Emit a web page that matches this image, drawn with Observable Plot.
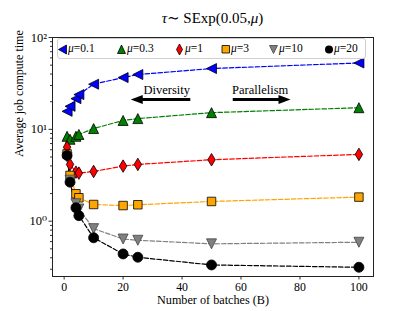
<!DOCTYPE html>
<html>
<head>
<meta charset="utf-8">
<script src="https://cdn.jsdelivr.net/npm/d3@7"></script>
<script src="https://cdn.jsdelivr.net/npm/@observablehq/plot@0.6"></script>
<style>
  html, body { margin: 0; padding: 0; background: #fff; }
  #wrap { position: relative; width: 415px; height: 311px; font-family: "Liberation Serif", "DejaVu Serif", serif; }
  #chart svg, #chart svg text { font-family: "Liberation Serif", "DejaVu Serif", serif !important; }
  #title { position: absolute; left: 0; width: 425px; top: 9px; text-align: center; font-size: 15px; color: #000; }
  #legend { position: absolute; left: 57px; top: 38px; width: 307px; height: 19px; border: 1px solid #d0d0d0; border-radius: 3px; background: rgba(255,255,255,0.85); font-size: 11.5px; }
  .li { position: absolute; top: 2px; height: 15px; line-height: 15px; white-space: nowrap; }
  .li svg { position: absolute; left: 0; top: 3px; }
  .li span { position: absolute; left: 10px; top: 0; }
</style>
</head>
<body>
<div id="wrap">
  <div id="title"><i>τ</i>∼ SExp(0.05,<i>μ</i>)</div>
  <div id="chart"></div>
  <div id="legend"></div>
</div>
<script>
// ---- data ----
const batches = [1, 2, 4, 5, 10, 20, 25, 50, 100];
const mus = ["0.1", "0.3", "1", "3", "10", "20"];
const mu01 = [15.7, 17.8, 21.6, 23.9, 31.0, 36.6, 39.5, 45.9, 52.8];
const mu03 = [8.4, 7.8, 8.4, 8.8, 10.2, 12.5, 13.1, 15.2, 17.2];
const mu1  = [6.4, 4.15, 3.42, 3.34, 3.48, 3.98, 4.15, 4.67, 5.34];
const mu3  = [5.4, 3.15, 1.99, 1.80, 1.52, 1.48, 1.51, 1.64, 1.83];
const mu10 = [5.0, 2.8, 1.55, 1.36, 0.83, 0.64, 0.62, 0.567, 0.59];
const mu20 = [5.2, 2.66, 1.40, 1.15, 0.66, 0.44, 0.405, 0.334, 0.315];
const colors = ["#0000ff", "#008000", "#ff0000", "#ffa500", "#808080", "#000000"];
const xTicks = [0, 20, 40, 60, 80, 100];
const yTicks = [1, 10, 100];
const yTickLabels = ["10⁰", "10¹", "10²"];
const xLabel = "Number of batches (B)";
const yLabel = "Average job compute time";
const annotations = [
  {text: "Diversity", x: 34.8, y: 26.5, x1: 42.8, x2: 22.6, ya: 21.2, dir: "left"},
  {text: "Parallelism", x: 66.5, y: 26.5, x1: 57.2, x2: 76.8, ya: 21.2, dir: "right"}
];
const serif = "Liberation Serif";

// ---- symbols ----
function rad(size) { return Math.sqrt(size / Math.PI); }
const triLeft = {draw(c, s) { const r = rad(s); c.moveTo(-r, 0); c.lineTo(r, -r); c.lineTo(r, r); c.closePath(); }};
const triUp = {draw(c, s) { const r = rad(s); c.moveTo(0, -r); c.lineTo(r, r); c.lineTo(-r, r); c.closePath(); }};
const thinDiamond = {draw(c, s) { const r = rad(s) * 1.25; c.moveTo(0, -r); c.lineTo(0.6 * r, 0); c.lineTo(0, r); c.lineTo(-0.6 * r, 0); c.closePath(); }};
const square = {draw(c, s) { const r = rad(s) * 0.85; c.rect(-r, -r, 2 * r, 2 * r); }};
const triDown = {draw(c, s) { const r = rad(s); c.moveTo(0, r); c.lineTo(r, -r); c.lineTo(-r, -r); c.closePath(); }};
const circle = {draw(c, s) { const r = rad(s); c.moveTo(r, 0); c.arc(0, 0, r, 0, 2 * Math.PI); }};
const symbols = [triLeft, triUp, thinDiamond, square, triDown, circle];
const headLeft = {draw(c, s) { c.moveTo(0, 0); c.lineTo(12, -4.5); c.lineTo(12, 4.5); c.closePath(); }};
const headRight = {draw(c, s) { c.moveTo(0, 0); c.lineTo(-12, -4.5); c.lineTo(-12, 4.5); c.closePath(); }};

const seriesVals = [mu01, mu03, mu1, mu3, mu10, mu20];
const rows = [];
seriesVals.forEach((vals, i) => vals.forEach((v, j) => rows.push({mu: mus[i], idx: i, B: batches[j], t: v})));

const marks = [];
// minor y ticks
const minor = [];
for (const d of [0.1, 1, 10]) for (let k = 2; k <= 9; k++) { const v = d * k; if (v >= 0.25 && v <= 100) minor.push(v); }
marks.push(Plot.axisY({ticks: minor, tickSize: 2, tickFormat: () => "", stroke: "#333", label: null}));
marks.push(Plot.axisY({ticks: yTicks, tickSize: 3.5, tickPadding: 2, tickFormat: (d) => yTickLabels[yTicks.indexOf(d)], fontSize: 12.5, fontFamily: serif, stroke: "#333", label: null}));
marks.push(Plot.axisX({ticks: xTicks, tickSize: 3.5, tickPadding: 2.5, fontSize: 11.8, fontFamily: serif, stroke: "#333", label: null}));
marks.push(Plot.text([yLabel], {text: d => d, frameAnchor: "left", rotate: -90, dx: -33, fontSize: 12, fontFamily: serif, fill: "#000"}));
marks.push(Plot.text([xLabel], {text: d => d, frameAnchor: "bottom", dy: 27, fontSize: 12.2, fontFamily: serif, fill: "#000"}));
marks.push(Plot.frame({stroke: "#222", strokeWidth: 1}));
seriesVals.forEach((vals, i) => {
  const data = rows.filter(r => r.idx === i);
  marks.push(Plot.line(data, {x: "B", y: "t", stroke: colors[i], strokeWidth: 1.2, strokeDasharray: "4.5,2"}));
});
seriesVals.forEach((vals, i) => {
  const data = rows.filter(r => r.idx === i);
  marks.push(Plot.dot(data, {x: "B", y: "t", symbol: symbols[i], r: 5, fill: colors[i], stroke: i === 4 ? "#444" : "#000", strokeWidth: 0.8}));
});
// annotations
marks.push(Plot.link(annotations, {x1: "x1", x2: d => d.dir === "left" ? d.x2 + 3.5 : d.x2 - 3.5, y1: "ya", y2: "ya", stroke: "#000", strokeWidth: 3}));
marks.push(Plot.dot(annotations.filter(d => d.dir === "left"), {x: "x2", y: "ya", symbol: headLeft, fill: "#000", stroke: "none", r: 5}));
marks.push(Plot.dot(annotations.filter(d => d.dir === "right"), {x: "x2", y: "ya", symbol: headRight, fill: "#000", stroke: "none", r: 5}));
marks.push(Plot.text(annotations, {x: "x", y: "y", text: "text", fontSize: 12.5, fontFamily: serif, fill: "#000", textAnchor: "middle"}));

const chart = Plot.plot({
  width: 415,
  height: 311,
  marginLeft: 52,
  marginRight: 42,
  marginTop: 37,
  marginBottom: 35,
  style: {fontSize: "12px", fontFamily: serif, color: "#000", background: "#fff"},
  x: {domain: [-3.95, 104.95], label: null},
  y: {type: "log", domain: [0.25, 100], label: null},
  marks
});
document.getElementById("chart").appendChild(chart);

// legend (HTML overlay)
const legend = document.getElementById("legend");
const legX = [0, 59, 117, 163, 211, 266];
const legPaths = [
  "M0,4.5 L8,0 L8,9 Z",
  "M4,0 L8,8.5 L0,8.5 Z",
  "M4,-1 L7,4.5 L4,10 L1,4.5 Z",
  "M0.5,0.5 H8 V8 H0.5 Z",
  "M0,0.5 L8,0.5 L4,8.5 Z",
  null
];
mus.forEach((m, i) => {
  const div = document.createElement("div");
  div.className = "li";
  div.style.left = legX[i] + "px";
  const shape = legPaths[i]
    ? `<path d="${legPaths[i]}" fill="${colors[i]}" stroke="${i === 4 ? '#444' : '#000'}" stroke-width="0.8"/>`
    : `<circle cx="4.5" cy="4.5" r="4" fill="#000"/>`;
  div.innerHTML = `<svg width="10" height="11" viewBox="-0.5 -1 10 11" style="overflow:visible">${shape}</svg><span><i>μ</i>=${m}</span>`;
  legend.appendChild(div);
});
</script>
</body>
</html>
